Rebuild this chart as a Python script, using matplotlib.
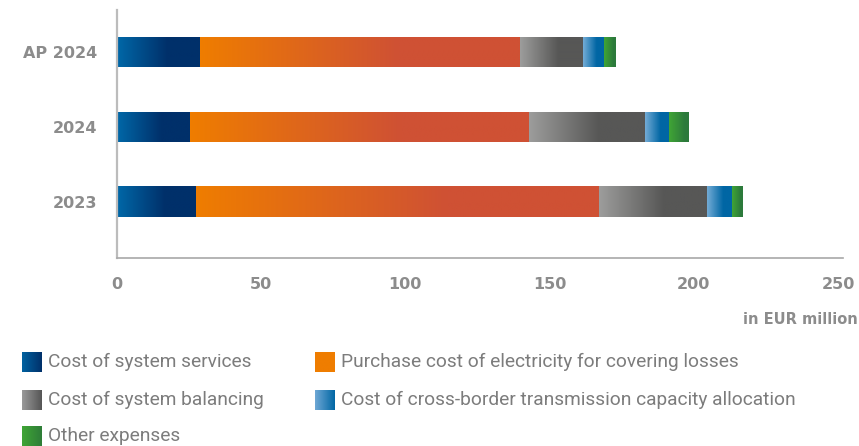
import numpy as np
import matplotlib
matplotlib.use("Agg")
import matplotlib.pyplot as plt
from matplotlib.colors import to_rgb

# Cost structure by year (EUR million)
categories = ["2023", "2024", "AP 2024"]
system_services = [27.6, 25.5, 29.0]
losses_purchase = [139.7, 117.5, 110.6]
system_balancing = [37.4, 40.2, 22.1]
cross_border = [8.5, 8.1, 7.1]
other_expenses = [3.8, 6.6, 4.0]

series_names = [
    "Cost of system services",
    "Purchase cost of electricity for covering losses",
    "Cost of system balancing",
    "Cost of cross-border transmission capacity allocation",
    "Other expenses",
]
x_ticks = [0, 50, 100, 150, 200, 250]
unit_label = "in EUR million"

# (left colour, right colour, fraction of width where the gradient ends)
bar_gradients = [
    ("#0068a8", "#00306a", 0.60),
    ("#ef7d00", "#cf5134", 0.62),
    ("#9d9d9c", "#575756", 0.60),
    ("#74acd6", "#0066a4", 0.65),
    ("#40a535", "#2c7a3c", 0.80),
]
legend_gradients = [
    ("#0062a0", "#00306a"),
    ("#ef7d00", "#ef7d00"),
    ("#9a9a9a", "#555555"),
    ("#6fa8d5", "#0066a4"),
    ("#3fa535", "#2e7d38"),
]

W, H = 859, 446
fig = plt.figure(figsize=(W / 100, H / 100), dpi=100)
ax = fig.add_axes([116.7 / W, 1 - 258 / H, (843 - 116.7) / W, (258 - 10) / H])


def gradient_strip(c0, c1, frac, n=256):
    t = np.clip(np.linspace(0, 1, n) / frac, 0, 1)
    a, b = np.array(to_rgb(c0)), np.array(to_rgb(c1))
    return (a[None, :] * (1 - t[:, None]) + b[None, :] * t[:, None])[None, :, :]


series = [system_services, losses_purchase, system_balancing, cross_border, other_expenses]
y = np.arange(len(categories))
left = np.zeros(len(categories))
for vals, (c0, c1, frac) in zip(series, bar_gradients):
    bars = ax.barh(y, vals, left=left, height=0.41, facecolor="none",
                   edgecolor="none", zorder=2)
    for rect in bars:
        x0, y0 = rect.get_x(), rect.get_y()
        w, h = rect.get_width(), rect.get_height()
        im = ax.imshow(gradient_strip(c0, c1, frac), extent=[x0, x0 + w, y0, y0 + h],
                       aspect="auto", interpolation="bilinear", zorder=2)
        im.set_clip_path(rect)
    left += np.array(vals)

ax.set_xlim(0, 251.7)
ax.set_ylim(-0.75, 2.56)
ax.set_xticks(x_ticks)
ax.set_yticks(y)
ax.set_yticklabels(categories)

tick_color = "#8c8c8c"
ax.tick_params(axis="both", length=0, colors=tick_color, labelsize=11.5)
ax.tick_params(axis="x", pad=13.5)
ax.tick_params(axis="y", pad=14)
for lab in ax.get_xticklabels() + ax.get_yticklabels():
    lab.set_fontweight("bold")
    lab.set_fontfamily("DejaVu Sans")

for s in ("top", "right"):
    ax.spines[s].set_visible(False)
ax.spines["left"].set_color("#bcbcbc")
ax.spines["left"].set_linewidth(1.6)
ax.spines["bottom"].set_color("#a8a8a8")
ax.spines["bottom"].set_linewidth(1.2)

fig.text(858 / W, 1 - 319 / H, unit_label, ha="right", va="center",
         fontsize=10.5, fontweight="bold", color=tick_color, family="DejaVu Sans")

# Legend drawn on a figure-wide overlay in pixel units
lax = fig.add_axes([0, 0, 1, 1], zorder=5)
lax.set_xlim(0, W)
lax.set_ylim(H, 0)
lax.axis("off")
legend_slots = [(22, 362), (315, 362), (22, 400), (315, 400), (22, 436)]
for name, (c0, c1), (sx, sy) in zip(series_names, legend_gradients, legend_slots):
    lax.imshow(gradient_strip(c0, c1, 1.0), extent=[sx, sx + 20, sy + 10, sy - 10],
               aspect="auto", interpolation="bilinear")
    lax.text(sx + 26, sy, name, ha="left", va="center", fontsize=13.8,
             color="#7c7c7c", family="Roboto")
lax.set_xlim(0, W)
lax.set_ylim(H, 0)

fig.savefig("out.png", dpi=100)
